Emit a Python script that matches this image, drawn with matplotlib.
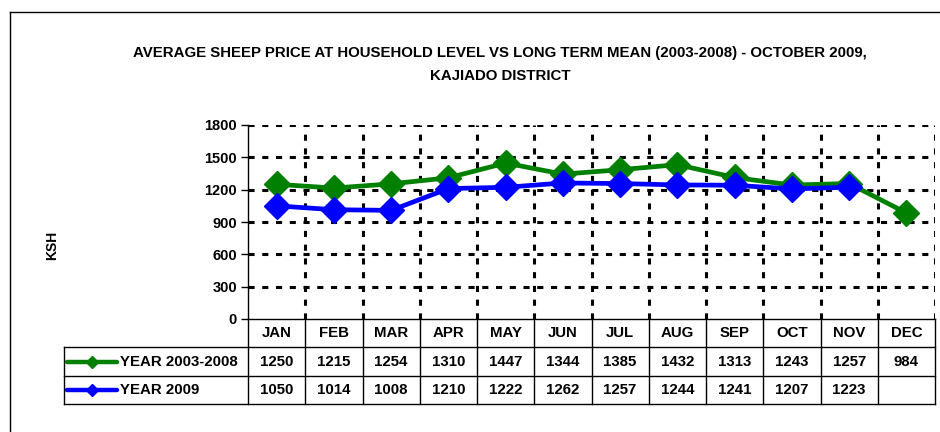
import matplotlib.pyplot as plt
from matplotlib.lines import Line2D

plt.rcParams['font.family'] = ['Liberation Sans', 'DejaVu Sans']
plt.rcParams['font.weight'] = 'bold'

months = ["JAN", "FEB", "MAR", "APR", "MAY", "JUN", "JUL", "AUG", "SEP", "OCT", "NOV", "DEC"]
mean_0308 = [1250, 1215, 1254, 1310, 1447, 1344, 1385, 1432, 1313, 1243, 1257, 984]
year_2009 = [1050, 1014, 1008, 1210, 1222, 1262, 1257, 1244, 1241, 1207, 1223]
series_names = ["YEAR 2003-2008", "YEAR 2009"]
series_colors = ["green", "blue"]

W, H = 940, 432
fig = plt.figure(figsize=(9.4, 4.32), dpi=100)

def fx(px):
    return px / W

def fy(py):
    return 1 - py / H

# outer frame (left and top only visible)
fig.add_artist(Line2D([fx(10), fx(10)], [fy(12), fy(432)], color="black", lw=1))
fig.add_artist(Line2D([fx(10), fx(940)], [fy(12), fy(12)], color="black", lw=1))

fig.text(fx(500), fy(53), "AVERAGE SHEEP PRICE AT HOUSEHOLD LEVEL VS LONG TERM MEAN (2003-2008) - OCTOBER 2009,",
         ha="center", va="center", fontsize=10.8, fontweight="bold")
fig.text(fx(500), fy(76), "KAJIADO DISTRICT", ha="center", va="center", fontsize=10.8, fontweight="bold")
fig.text(fx(52), fy(245), "KSH", ha="center", va="center", rotation=90, fontsize=10, fontweight="bold")

left, right, top, bottom = 248, 935, 125, 319
ax = fig.add_axes([fx(left), fy(bottom), fx(right - left), (bottom - top) / H])

x = [i + 0.5 for i in range(12)]
ax.plot(x, mean_0308, color=series_colors[0], lw=3.4, marker="D", markersize=13, zorder=4)
ax.plot(x[:len(year_2009)], year_2009, color=series_colors[1], lw=3.4, marker="D", markersize=13, zorder=5)

ax.set_xlim(0, 12)
ax.set_ylim(0, 1800)
ax.set_yticks(range(0, 1801, 300))
ax.set_xticks([])
for s in ["top", "right"]:
    ax.spines[s].set_visible(False)
ax.spines["left"].set_linewidth(1)
ax.spines["bottom"].set_linewidth(1)
ax.tick_params(axis="y", direction="out", length=5, width=1, labelsize=10.5, pad=3)
for lbl in ax.get_yticklabels():
    lbl.set_fontweight("bold")

grid_style = dict(color="black", lw=2.2, linestyle=(0, (2, 2.5)), zorder=1)
for yv in range(300, 1801, 300):
    ax.axhline(yv, **grid_style)
for i in range(1, 13):
    ax.axvline(i, **grid_style)

# data table below the plot
col_w = (right - left) / 12
rows_y = [319, 347, 376, 404]
tbl_left = 64
lc = "black"
for ry in rows_y[1:]:
    fig.add_artist(Line2D([fx(tbl_left), fx(right)], [fy(ry), fy(ry)], color=lc, lw=1))
fig.add_artist(Line2D([fx(tbl_left), fx(tbl_left)], [fy(rows_y[1]), fy(rows_y[3])], color=lc, lw=1))
for i in range(13):
    xp = left + i * col_w
    fig.add_artist(Line2D([fx(xp), fx(xp)], [fy(rows_y[0]), fy(rows_y[3])], color=lc, lw=1))

fs = 10.8
for i, m in enumerate(months):
    xc = left + (i + 0.5) * col_w
    fig.text(fx(xc), fy((rows_y[0] + rows_y[1]) / 2), m, ha="center", va="center", fontsize=fs, fontweight="bold")
    fig.text(fx(xc), fy((rows_y[1] + rows_y[2]) / 2), str(mean_0308[i]), ha="center", va="center",
             fontsize=fs, fontweight="bold")
    if i < len(year_2009):
        fig.text(fx(xc), fy((rows_y[2] + rows_y[3]) / 2), str(year_2009[i]), ha="center", va="center",
                 fontsize=fs, fontweight="bold")

for r, (name, c) in enumerate(zip(series_names, series_colors)):
    yc = fy((rows_y[r + 1] + rows_y[r + 2]) / 2)
    fig.add_artist(Line2D([fx(67), fx(117)], [yc, yc], color=c, lw=3.2, solid_capstyle="round"))
    fig.add_artist(Line2D([fx(92)], [yc], color=c, marker="D", markersize=6))
    fig.text(fx(120), yc, name, ha="left", va="center", fontsize=fs, fontweight="bold")

fig.savefig("out.png", dpi=100)
